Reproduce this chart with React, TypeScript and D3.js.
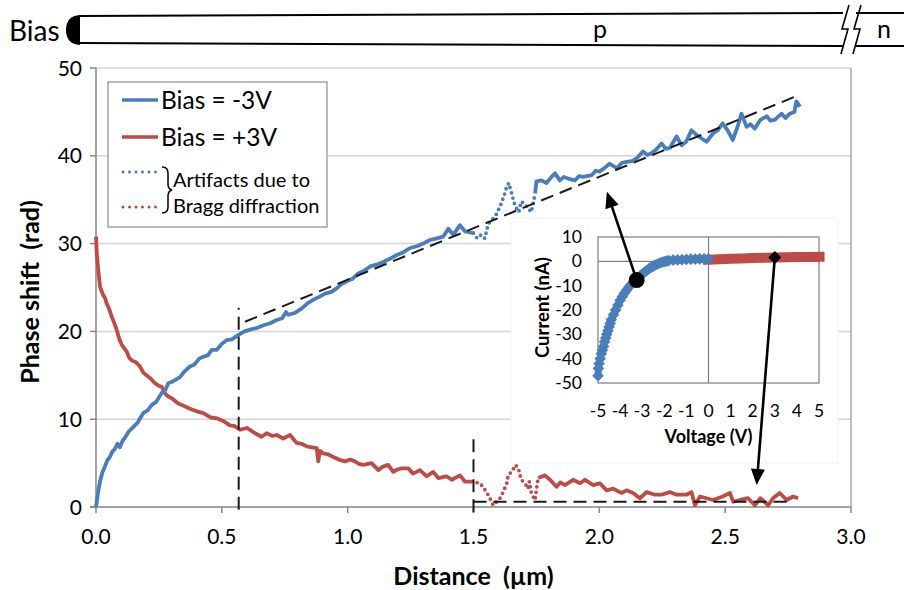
import React from 'react';
import * as d3 from 'd3';

// main chart: distance (µm) vs phase shift (rad)
const xTicks = [0, 0.5, 1.0, 1.5, 2.0, 2.5, 3.0];
const yTicks = [0, 10, 20, 30, 40, 50];

const blueSolidA: [number, number][] = [
  [0, 0], [0.008, 1.6], [0.016, 2.9], [0.025, 3.9], [0.035, 4.6], [0.045, 5.3], [0.055, 5.7], [0.065, 6.3],
  [0.075, 6.6], [0.085, 7.2], [0.095, 6.8], [0.105, 7.5], [0.115, 7.9], [0.13, 8.6], [0.148, 9.1], [0.165, 9.6],
  [0.188, 10.7], [0.205, 11.0], [0.221, 11.6], [0.24, 12.0], [0.261, 13.0], [0.275, 13.3], [0.287, 14.1],
  [0.305, 14.3], [0.334, 14.8], [0.35, 15.4], [0.373, 16.0], [0.39, 16.2], [0.41, 16.9], [0.426, 17.1],
  [0.445, 17.3], [0.46, 17.9], [0.48, 17.9], [0.5, 18.6], [0.519, 19.0], [0.54, 19.1], [0.566, 19.6],
  [0.59, 20.0], [0.612, 20.2], [0.64, 20.4], [0.665, 20.7], [0.69, 20.9], [0.718, 21.3], [0.74, 21.5],
  [0.755, 22.2], [0.764, 21.9], [0.79, 22.1], [0.817, 22.6], [0.84, 23.2], [0.863, 23.6], [0.885, 23.9],
  [0.91, 24.3], [0.935, 24.5], [0.956, 24.9], [0.975, 25.4], [0.996, 25.7], [1.02, 26.0], [1.042, 26.6],
  [1.065, 26.9], [1.089, 27.4], [1.115, 27.6], [1.141, 27.9], [1.17, 28.3], [1.195, 28.7], [1.22, 29.0],
  [1.248, 29.5], [1.275, 29.7], [1.3, 30.0], [1.325, 30.4], [1.354, 30.6], [1.38, 30.8], [1.4, 31.7],
  [1.42, 31.0], [1.446, 32.1], [1.466, 31.4], [1.5, 31.2],
];
const blueArtifact: [number, number][] = [
  [1.5, 31.2], [1.515, 30.6], [1.53, 31.0], [1.545, 30.6], [1.555, 31.8], [1.565, 32.5], [1.58, 32.9],
  [1.59, 33.3], [1.605, 34.2], [1.62, 35.3], [1.63, 36.3], [1.64, 36.9], [1.65, 35.9], [1.665, 34.3],
  [1.68, 33.6], [1.69, 34.8], [1.7, 34.6], [1.717, 34.0], [1.73, 33.6], [1.745, 35.7],
];
const blueSolidB: [number, number][] = [
  [1.745, 35.7], [1.75, 37.1], [1.77, 37.2], [1.79, 36.9], [1.81, 37.6], [1.824, 38.0], [1.843, 37.2],
  [1.86, 37.6], [1.876, 37.4], [1.903, 37.2], [1.92, 37.7], [1.936, 37.6], [1.97, 37.8], [1.985, 38.3],
  [2.0, 38.2], [2.02, 38.6], [2.04, 39.1], [2.07, 38.6], [2.09, 39.2], [2.108, 39.3], [2.13, 39.4],
  [2.148, 39.7], [2.174, 40.5], [2.19, 40.1], [2.207, 40.3], [2.225, 40.7], [2.247, 41.4], [2.265, 40.8],
  [2.28, 40.9], [2.307, 42.2], [2.327, 41.2], [2.345, 41.6], [2.366, 42.9], [2.386, 42.4], [2.405, 42.0],
  [2.426, 41.6], [2.453, 42.6], [2.47, 42.9], [2.49, 43.7], [2.51, 42.9], [2.53, 41.8], [2.548, 43.2],
  [2.565, 44.8], [2.585, 43.3], [2.6, 43.6], [2.618, 43.1], [2.64, 44.1], [2.665, 44.5], [2.68, 44.0],
  [2.697, 44.1], [2.724, 44.8], [2.74, 44.3], [2.757, 44.8], [2.775, 45.0], [2.783, 46.2], [2.797, 45.6],
];

const redSolidA: [number, number][] = [
  [0, 30.8], [0.003, 28.9], [0.009, 27.0], [0.016, 25.1], [0.022, 24.6], [0.029, 24.1], [0.036, 23.8],
  [0.042, 23.2], [0.052, 22.6], [0.062, 21.7], [0.072, 21.0], [0.082, 20.2], [0.092, 19.2], [0.102, 18.5],
  [0.112, 18.1], [0.122, 17.7], [0.132, 17.0], [0.142, 16.7], [0.158, 16.5], [0.175, 16.0], [0.188, 15.3],
  [0.201, 15.0], [0.218, 14.6], [0.234, 14.1], [0.25, 13.8], [0.261, 13.7], [0.275, 12.9], [0.287, 12.6],
  [0.305, 12.3], [0.327, 11.8], [0.35, 11.5], [0.373, 11.2], [0.4, 10.9], [0.426, 10.7], [0.455, 10.2],
  [0.48, 10.1], [0.505, 9.8], [0.532, 9.3], [0.552, 9.2], [0.572, 8.8], [0.6, 9.0], [0.632, 8.4],
  [0.658, 8.0], [0.678, 8.4], [0.7, 8.1], [0.718, 8.2], [0.744, 7.8], [0.771, 8.2], [0.797, 7.3],
  [0.817, 7.2], [0.837, 6.9], [0.857, 6.8], [0.877, 6.7], [0.883, 5.2], [0.89, 6.4], [0.903, 6.1],
  [0.923, 6.0], [0.943, 5.7], [0.965, 5.4], [0.989, 5.2], [1.01, 5.4], [1.029, 5.2], [1.045, 4.9],
  [1.062, 4.8], [1.095, 5.0], [1.122, 4.2], [1.14, 4.6], [1.161, 4.8], [1.181, 4.0], [1.2, 4.3],
  [1.214, 4.4], [1.241, 4.4], [1.26, 3.8], [1.287, 4.2], [1.314, 3.5], [1.34, 4.0], [1.36, 3.3],
  [1.393, 3.5], [1.413, 3.1], [1.446, 3.6], [1.466, 2.9], [1.493, 2.9],
];
const redArtifact: [number, number][] = [
  [1.493, 2.9], [1.51, 2.8], [1.526, 2.7], [1.54, 2.2], [1.552, 1.7], [1.565, 1.0], [1.578, 0.2],
  [1.592, 0.6], [1.605, 1.0], [1.618, 1.7], [1.632, 2.7], [1.638, 3.6], [1.651, 4.0], [1.668, 4.8],
  [1.68, 4.2], [1.69, 3.1], [1.704, 2.7], [1.717, 2.1], [1.722, 2.9], [1.73, 1.6], [1.744, 0.8], [1.757, 3.3],
];
const redSolidB: [number, number][] = [
  [1.757, 3.3], [1.784, 3.6], [1.804, 3.1], [1.83, 2.3], [1.845, 2.8], [1.863, 2.5], [1.896, 3.1],
  [1.923, 2.7], [1.943, 3.1], [1.976, 2.5], [2.002, 2.7], [2.029, 1.9], [2.055, 2.1], [2.088, 1.6],
  [2.108, 1.9], [2.134, 1.6], [2.161, 1.0], [2.188, 1.7], [2.221, 1.4], [2.247, 1.4], [2.28, 1.7],
  [2.307, 1.4], [2.346, 1.4], [2.366, 1.7], [2.38, 0.2], [2.4, 1.2], [2.426, 1.0], [2.452, 0.8],
  [2.49, 1.2], [2.519, 1.6], [2.532, 0.6], [2.559, 0.8], [2.59, 1.0], [2.618, 0.2], [2.64, 1.0],
  [2.671, 0.2], [2.69, 1.0], [2.717, 1.6], [2.744, 0.8], [2.77, 1.2], [2.79, 1.0],
];

// guide lines (dashed)
const fitLine: [number, number][] = [[0.592, 21.1], [2.783, 46.8]];
const guideA: [number, number][] = [[0.567, -0.3], [0.567, 22.7]];
const guideB: [number, number][] = [[1.5, -0.6], [1.5, 8.0]];
const guideC: [number, number][] = [[1.5, 0.6], [2.77, 0.6]];

// inset: I-V curve
const ivTicksX = [-5, -4, -3, -2, -1, 0, 1, 2, 3, 4, 5];
const ivTicksY = [10, 0, -10, -20, -30, -40, -50];
const ivNeg: [number, number][] = [
  [-5.0, -47], [-4.98, -44], [-4.95, -42], [-4.9, -40], [-4.85, -38], [-4.8, -36.5], [-4.75, -35],
  [-4.7, -33], [-4.65, -31.5], [-4.6, -30], [-4.55, -28.5], [-4.5, -27], [-4.45, -25.5], [-4.4, -24],
  [-4.3, -22], [-4.2, -20], [-4.1, -18], [-4.0, -16], [-3.9, -14.5], [-3.8, -13], [-3.7, -11.8],
  [-3.6, -10.5], [-3.5, -9.5], [-3.4, -8.5], [-3.3, -7.6], [-3.2, -6.8], [-3.1, -6.0], [-3.0, -5.2],
  [-2.9, -4.5], [-2.8, -3.8], [-2.7, -3.1], [-2.6, -2.5], [-2.5, -2.0], [-2.4, -1.5], [-2.3, -1.1],
  [-2.2, -0.7], [-2.1, -0.4], [-2.0, -0.1], [-1.9, 0.1], [-1.8, 0.3], [-1.6, 0.5], [-1.4, 0.6],
  [-1.2, 0.7], [-1.0, 0.8], [-0.8, 0.9], [-0.6, 0.9], [-0.4, 1.0], [-0.2, 1.0], [0, 1.0],
];
const ivPos: [number, number][] = [
  [-0.25, 0.6], [0, 0.7], [0.5, 0.9], [1, 1.1], [1.5, 1.2], [2, 1.4], [2.5, 1.5], [3, 1.6], [3.5, 1.7],
  [4, 1.8], [4.5, 1.8], [5, 1.9], [5.25, 1.9],
];
const ivMarkNeg: [number, number] = [-3.25, -7.7];
const ivMarkPos: [number, number] = [3.0, 1.6];
// where the arrows land on the main chart
const targetNeg: [number, number] = [2.03, 35.9];
const targetPos: [number, number] = [2.625, 2.5];

const BLUE = '#4a7ebb';
const RED = '#be4b48';
const FONT = 'Lato, "Open Sans", sans-serif';

const x = d3.scaleLinear().domain([0, 3]).range([96, 851]);
const y = d3.scaleLinear().domain([0, 50]).range([507, 68]);
const ix = d3.scaleLinear().domain([-5, 5]).range([598, 819]);
const iy = d3.scaleLinear().domain([-50, 10]).range([383, 237]);

const line = d3.line<[number, number]>().x(d => x(d[0])).y(d => y(d[1]));
const ivLine = d3.line<[number, number]>().x(d => ix(d[0])).y(d => iy(d[1]));

const diamond = (cx: number, cy: number, r: number) =>
  `M${cx},${cy - r}L${cx + r},${cy}L${cx},${cy + r}L${cx - r},${cy}Z`;

const Arrow = ({ x1, y1, x2, y2 }: { x1: number; y1: number; x2: number; y2: number }) => {
  const a = Math.atan2(y2 - y1, x2 - x1);
  const len = 16, w = 7;
  const bx = x2 - len * Math.cos(a), by = y2 - len * Math.sin(a);
  const p1 = [bx + w * Math.sin(a), by - w * Math.cos(a)];
  const p2 = [bx - w * Math.sin(a), by + w * Math.cos(a)];
  return (
    <g>
      <line x1={x1} y1={y1} x2={bx} y2={by} stroke="#000" strokeWidth={2.6} />
      <path d={`M${x2},${y2}L${p1[0]},${p1[1]}L${p2[0]},${p2[1]}Z`} fill="#000" />
    </g>
  );
};

export default function App() {
  const dash = '13 7';
  const sw = 3.8;
  return (
    <svg width={904} height={590} style={{ position: 'absolute', left: 0, top: 0, background: '#fff' }}
      fontFamily={FONT}>
      {/* device sketch */}
      <text x={9} y={41} fontSize={28} fill="#000">Bias</text>
      <path d="M80,15 Q66,16 66,30 Q66,44 80,45 Z" fill="#000" />
      <line x1={79} y1={16} x2={843} y2={13} stroke="#000" strokeWidth={2} />
      <line x1={79} y1={43} x2={843} y2={46} stroke="#000" strokeWidth={2} />
      <line x1={856} y1={13} x2={904} y2={13} stroke="#000" strokeWidth={2} />
      <line x1={856} y1={46} x2={904} y2={46} stroke="#000" strokeWidth={2} />
      <path d="M849,5 L842,29 L848,29 L841,54" fill="none" stroke="#000" strokeWidth={1.6} />
      <path d="M861,5 L854,29 L860,29 L853,54" fill="none" stroke="#000" strokeWidth={1.6} />
      <text x={600} y={38} fontSize={25} textAnchor="middle">p</text>
      <text x={884} y={38} fontSize={25} textAnchor="middle">n</text>

      {/* gridlines */}
      {yTicks.filter(t => t > 0).map(t => (
        <line key={t} x1={x(0)} x2={x(3)} y1={y(t)} y2={y(t)} stroke="#d4d4d4" strokeWidth={1.5} />
      ))}
      <line x1={x(3)} x2={x(3)} y1={y(50)} y2={y(0)} stroke="#a6a6a6" strokeWidth={1.5} />

      {/* axes */}
      <line x1={x(0)} x2={x(0)} y1={y(50)} y2={y(0)} stroke="#868686" strokeWidth={1.5} />
      <line x1={x(0) - 6} x2={x(3)} y1={y(0)} y2={y(0)} stroke="#868686" strokeWidth={1.5} />
      {yTicks.map(t => (
        <g key={t}>
          <line x1={x(0) - 6} x2={x(0)} y1={y(t)} y2={y(t)} stroke="#868686" strokeWidth={1.5} />
          <text x={x(0) - 14} y={y(t)} dy="0.36em" textAnchor="end" fontSize={21}>{t}</text>
        </g>
      ))}
      {xTicks.map(t => (
        <g key={t}>
          <line x1={x(t)} x2={x(t)} y1={y(0)} y2={y(0) + 6} stroke="#868686" strokeWidth={1.5} />
          <text x={x(t)} y={y(0) + 37} textAnchor="middle" fontSize={21}>{t.toFixed(1)}</text>
        </g>
      ))}
      <text x={x(1.5)} y={585} textAnchor="middle" fontSize={25} fontWeight="bold">{'Distance\u00a0\u00a0(µm)'}</text>
      <text transform={`translate(39,${y(24.5)}) rotate(-90)`} textAnchor="middle" fontSize={25} fontWeight="bold">
        {'Phase shift\u00a0\u00a0(rad)'}
      </text>

      {/* data */}
      <path d={line(redSolidA) ?? ''} fill="none" stroke={RED} strokeWidth={sw} strokeLinejoin="round" />
      <path d={line(redArtifact) ?? ''} fill="none" stroke={RED} strokeWidth={sw} strokeDasharray="0 5.5" strokeLinecap="round" />
      <path d={line(redSolidB) ?? ''} fill="none" stroke={RED} strokeWidth={sw} strokeLinejoin="round" />
      <path d={line(blueSolidA) ?? ''} fill="none" stroke={BLUE} strokeWidth={sw} strokeLinejoin="round" />
      <path d={line(blueArtifact) ?? ''} fill="none" stroke={BLUE} strokeWidth={sw} strokeDasharray="0 5.5" strokeLinecap="round" />
      <path d={line(blueSolidB) ?? ''} fill="none" stroke={BLUE} strokeWidth={sw} strokeLinejoin="round" />

      {[fitLine, guideA, guideB, guideC].map((g, i) => (
        <path key={i} d={line(g) ?? ''} fill="none" stroke="#1a1a1a" strokeWidth={2} strokeDasharray={dash} />
      ))}

      {/* legend */}
      <rect x={108} y={82} width={219} height={145} fill="#fff" stroke="#8c8c8c" strokeWidth={1.2} />
      <line x1={122} x2={158} y1={100} y2={100} stroke={BLUE} strokeWidth={3.5} />
      <text x={161} y={100} dy="0.35em" fontSize={24.5}>Bias = -3V</text>
      <line x1={122} x2={158} y1={137} y2={137} stroke={RED} strokeWidth={3.5} />
      <text x={161} y={137} dy="0.35em" fontSize={24.5}>Bias = +3V</text>
      <line x1={123} x2={158} y1={172} y2={172} stroke={BLUE} strokeWidth={3} strokeDasharray="0 6.5" strokeLinecap="round" />
      <line x1={123} x2={158} y1={207} y2={207} stroke={RED} strokeWidth={3} strokeDasharray="0 6.5" strokeLinecap="round" />
      <path d="M162,167 Q168,167 168,173 L168,184 Q168,189 172,190 Q168,191 168,196 L168,207 Q168,213 162,213"
        fill="none" stroke="#000" strokeWidth={1.5} />
      <text x={173} y={180} dy="0.35em" fontSize={20}>Artifacts due to</text>
      <text x={173} y={206} dy="0.35em" fontSize={20}>Bragg diffraction</text>

      {/* inset */}
      <rect x={511} y={218} width={327} height={245} fill="#fff" stroke="#f2f2f2" />
      <rect x={ix(-5)} y={iy(10)} width={ix(5) - ix(-5)} height={iy(-50) - iy(10)} fill="none" stroke="#7f7f7f" strokeWidth={1.2} />
      <line x1={ix(0)} x2={ix(0)} y1={iy(10)} y2={iy(-50)} stroke="#7f7f7f" strokeWidth={1.2} />
      <line x1={ix(-5)} x2={ix(5)} y1={iy(0)} y2={iy(0)} stroke="#7f7f7f" strokeWidth={1.2} />
      {ivTicksY.map(t => (
        <text key={t} x={ix(-5) - 16} y={iy(t)} dy="0.35em" textAnchor="end" fontSize={17.5}>{t}</text>
      ))}
      {ivTicksX.map(t => (
        <text key={t} x={ix(t)} y={iy(-50) + 34} textAnchor="middle" fontSize={17.5}>{t}</text>
      ))}
      <text x={ix(0)} y={443} textAnchor="middle" fontSize={18} fontWeight="bold">Voltage (V)</text>
      <text transform={`translate(549,${iy(-19)}) rotate(-90)`} textAnchor="middle" fontSize={18.5} fontWeight="bold">
        Current (nA)
      </text>
      <path d={ivLine(ivPos) ?? ''} fill="none" stroke={RED} strokeWidth={10} />
      <path d={ivLine(ivNeg) ?? ''} fill="none" stroke={BLUE} strokeWidth={7} strokeLinejoin="round" />
      {ivNeg.map((d, i) => (
        <path key={i} d={diamond(ix(d[0]), iy(d[1]), 5.8)} fill={BLUE} />
      ))}
      <circle cx={ix(ivMarkNeg[0])} cy={iy(ivMarkNeg[1])} r={8} fill="#000" />
      <path d={diamond(ix(ivMarkPos[0]), iy(ivMarkPos[1]), 6.5)} fill="#000" />

      {/* arrows from inset to main curves */}
      <Arrow x1={ix(ivMarkNeg[0])} y1={iy(ivMarkNeg[1])} x2={x(targetNeg[0])} y2={y(targetNeg[1])} />
      <Arrow x1={ix(ivMarkPos[0])} y1={iy(ivMarkPos[1])} x2={x(targetPos[0])} y2={y(targetPos[1])} />
    </svg>
  );
}
